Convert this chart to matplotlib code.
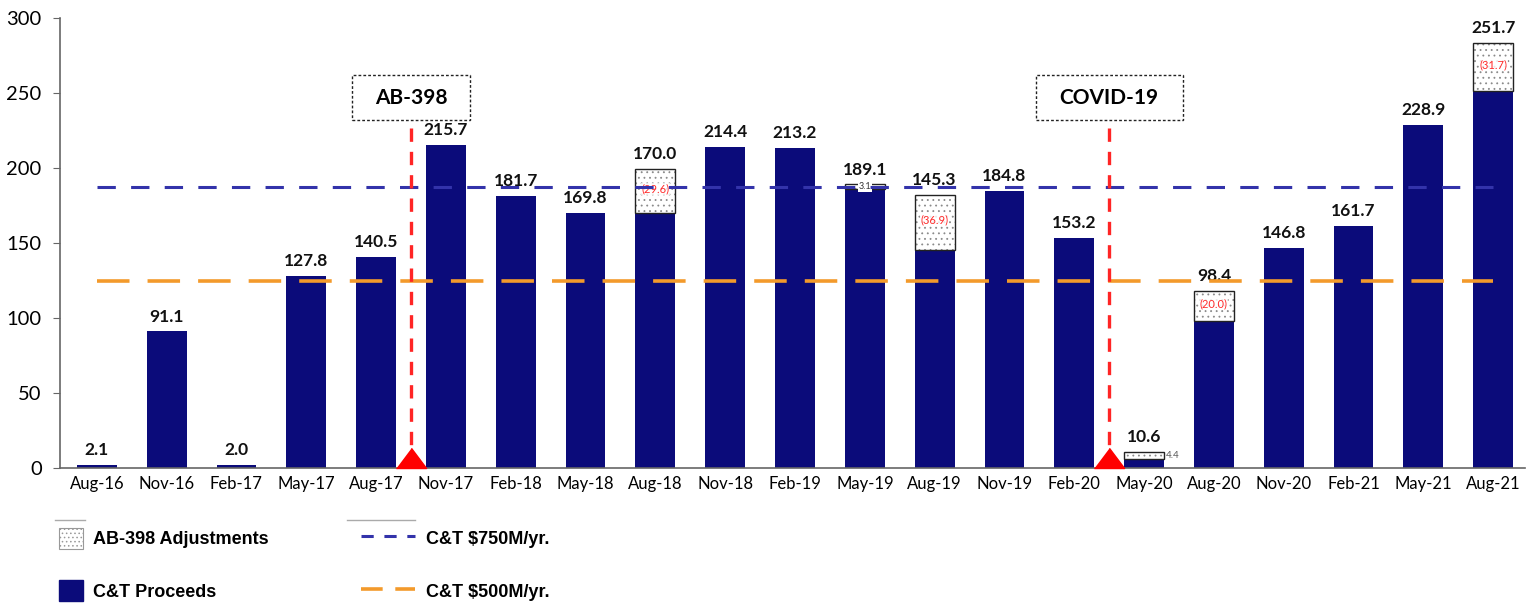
import matplotlib.pyplot as plt
from matplotlib.patches import Rectangle, Patch
from matplotlib.lines import Line2D

# 분기별 데이터
quarters = ["Aug-16", "Nov-16", "Feb-17", "May-17", "Aug-17", "Nov-17", "Feb-18",
            "May-18", "Aug-18", "Nov-18", "Feb-19", "May-19", "Aug-19", "Nov-19",
            "Feb-20", "May-20", "Aug-20", "Nov-20", "Feb-21", "May-21", "Aug-21"]
proceeds = [2.1, 91.1, 2.0, 127.8, 140.5, 215.7, 181.7, 169.8, 170.0, 214.4, 213.2,
            186.0, 145.3, 184.8, 153.2, 6.2, 98.4, 146.8, 161.7, 228.9, 251.7]
adjust = [0, 0, 0, 0, 0, 0, 0, 0, 29.6, 0, 0, 3.1, 36.9, 0, 0, 4.4, 20.0, 0, 0, 0, 31.7]
totals = ["2.1", "91.1", "2.0", "127.8", "140.5", "215.7", "181.7", "169.8", "170.0",
          "214.4", "213.2", "189.1", "145.3", "184.8", "153.2", "10.6", "98.4",
          "146.8", "161.7", "228.9", "251.7"]
adj_labels = ["", "", "", "", "", "", "", "", "(29.6)", "", "", "3.1", "(36.9)", "",
              "", "4.4", "(20.0)", "", "", "", "(31.7)"]
target_750 = 187.5
target_500 = 125.0
events = ["AB-398", "COVID-19"]
event_pos = [4.5, 14.5]

navy = "#0b0b7a"
x = list(range(len(quarters)))
w = 0.57

plt.rcParams["hatch.color"] = "#8a8a8a"
plt.rcParams["hatch.linewidth"] = 0.6

fig = plt.figure(figsize=(15.33, 6.04), dpi=100)
ax = fig.add_axes([0.039, 0.225, 0.956, 0.745])

# C&T 수익 막대
ax.bar(x, proceeds, w, color=navy, zorder=2)
# 조정분 (점무늬)
ax.bar(x, adjust, w, bottom=proceeds, color="white", hatch="...", edgecolor="#8a8a8a",
       linewidth=0, zorder=2)
ax.bar([i for i in x if adjust[i] > 0], [a for a in adjust if a > 0], w,
       bottom=[proceeds[i] for i in x if adjust[i] > 0], fill=False,
       edgecolor="#222222", linewidth=1.0, zorder=3)

# 값 라벨
for i in x:
    top = proceeds[i] + adjust[i]
    ax.annotate(totals[i], (i, top), xytext=(0, 5), textcoords="offset points",
                ha="center", va="bottom", fontsize=12.5, fontweight="bold",
                family="Lato", color="#111111")
    lab = adj_labels[i]
    if lab.startswith("("):
        ax.text(i, proceeds[i] + adjust[i] * 0.55, lab, ha="center", va="center",
                fontsize=8, color="#ff2a2a", family="Lato", zorder=4,
                bbox=dict(facecolor="white", edgecolor="none", pad=0.3, alpha=0.8))
    elif lab and adjust[i] < 4:
        ax.text(i, proceeds[i] + adjust[i] / 2, lab, ha="center", va="center",
                fontsize=6.5, color="#333333", family="Lato", zorder=4,
                bbox=dict(facecolor="white", edgecolor="none", pad=0.5))
    elif lab:
        ax.text(i + w / 2 + 0.03, proceeds[i] + adjust[i] / 2, lab, ha="left",
                va="center", fontsize=7, color="#555555", family="Lato", zorder=4)

# 목표선
ax.plot([x[0], x[-1]], [target_750, target_750], color="#3333aa",
        linewidth=2.2, dashes=(6, 5), zorder=4)
ax.plot([x[0], x[-1]], [target_500, target_500], color="#f39a2b",
        linewidth=2.6, dashes=(9, 5), zorder=4)

# 이벤트 표시
box_w = [0.84, 1.05]
for name, pos, bw in zip(events, event_pos, box_w):
    ax.plot([pos, pos], [0, 232], color="#ff2525", linewidth=2.4, dashes=(4, 3), zorder=5)
    ax.plot(pos, 0, marker=[(-1.5, 0), (1.5, 0), (0, 2)], markersize=29,
            color="#ff0000", clip_on=False, zorder=6)
    ax.add_patch(Rectangle((pos - bw, 232), 2 * bw, 30, facecolor="white",
                           edgecolor="#222222", linewidth=1.0,
                           linestyle=(0, (2, 1.5)), zorder=6))
    ax.text(pos, 247, name, ha="center", va="center", fontsize=15,
            fontweight="bold", family="Lato", zorder=7)

ax.set_xlim(-0.53, 20.46)
ax.set_ylim(0, 300)
ax.set_yticks([0, 50, 100, 150, 200, 250, 300])
ax.set_xticks(x)
ax.set_xticklabels(quarters, family="Lato", fontsize=12)
for t in ax.get_yticklabels():
    t.set_family("Lato")
    t.set_fontsize(14.5)
ax.tick_params(axis="x", length=0, pad=6)
ax.tick_params(axis="y", length=5, color="#666666", pad=8)
for s in ["top", "right"]:
    ax.spines[s].set_visible(False)
for s in ["left", "bottom"]:
    ax.spines[s].set_color("#666666")
    ax.spines[s].set_linewidth(1.2)

# 범례
h1 = [Patch(facecolor="white", edgecolor="#999999", hatch="....", linewidth=0.8),
      Patch(facecolor=navy, edgecolor=navy)]
leg1 = fig.legend(h1, ["AB-398 Adjustments", "C&T Proceeds"], loc="upper left",
                  bbox_to_anchor=(0.028, 0.153), frameon=False, handlelength=1.3,
                  handleheight=1.4, labelspacing=1.75, handletextpad=0.6,
                  prop={"family": "Liberation Sans", "weight": "bold", "size": 13})
h2 = [Line2D([], [], color="#3333aa", linewidth=2.2, dashes=(4, 3.5)),
      Line2D([], [], color="#f39a2b", linewidth=2.6, dashes=(6, 3.5))]
leg2 = fig.legend(h2, ["C&T $750M/yr.", "C&T $500M/yr."], loc="upper left",
                  bbox_to_anchor=(0.225, 0.153), frameon=False, handlelength=3.0,
                  handleheight=1.4, labelspacing=1.75, handletextpad=0.6,
                  prop={"family": "Liberation Sans", "weight": "bold", "size": 13})
fig.add_artist(Line2D([55 / 1533, 85 / 1533], [1 - 520 / 604] * 2, color="#aaaaaa", linewidth=1))
fig.add_artist(Line2D([347 / 1533, 415 / 1533], [1 - 520 / 604] * 2, color="#aaaaaa", linewidth=1))

plt.savefig("out.png", dpi=100)
